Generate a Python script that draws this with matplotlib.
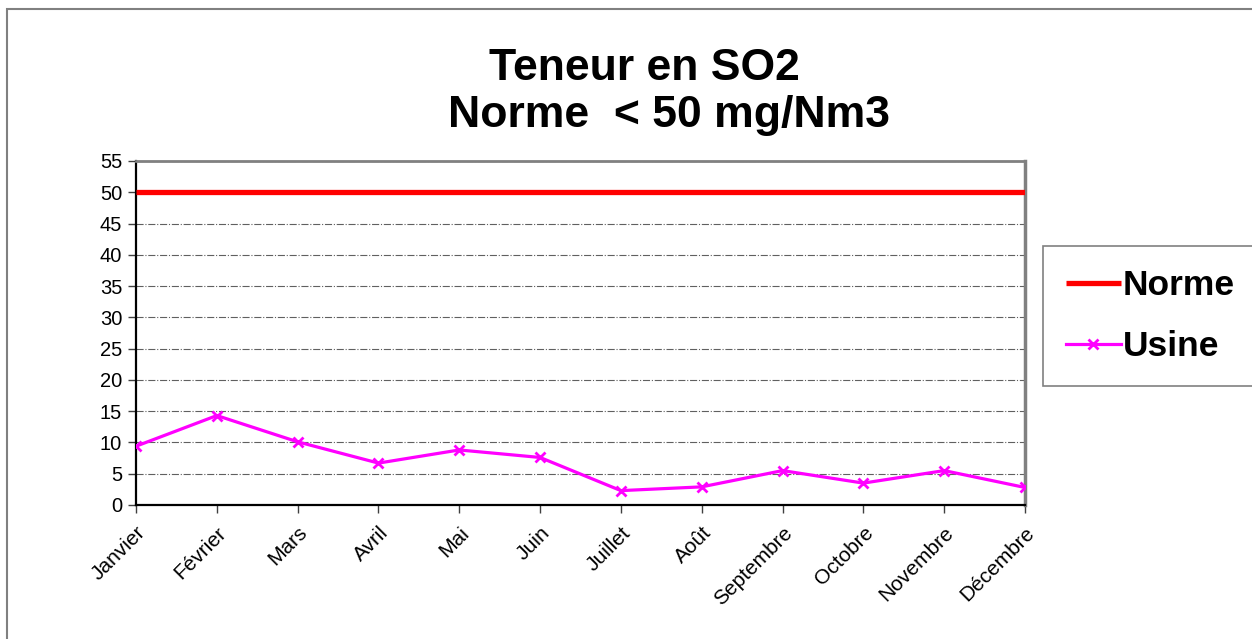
import matplotlib
matplotlib.use("Agg")
import matplotlib.pyplot as plt
from matplotlib.patches import Rectangle

months = ["Janvier", "Février", "Mars", "Avril", "Mai", "Juin", "Juillet",
          "Août", "Septembre", "Octobre", "Novembre", "Décembre"]
norme = [50] * 12
usine = [9.4, 14.3, 10.1, 6.7, 8.8, 7.6, 2.3, 2.9, 5.5, 3.5, 5.5, 2.8]
yticks = list(range(0, 60, 5))

plt.rcParams['font.family'] = ['Liberation Sans', 'DejaVu Sans']

W, H = 1252, 639
fig = plt.figure(figsize=(W / 100, H / 100), dpi=100)
fig.patch.set_facecolor('white')

# outer chart frame
fig.add_artist(Rectangle((7 / W, -0.05), 1.1, 1 - 9 / H + 0.05, transform=fig.transFigure,
                         fill=False, edgecolor='#808080', linewidth=1.5))

ax = fig.add_axes([136 / W, 1 - 505 / H, (1025 - 136) / W, (505 - 161) / H])
x = list(range(len(months)))
ln1, = ax.plot(x, norme, color='#ff0000', linewidth=3.8, solid_capstyle='butt', label='Norme', zorder=3)
ln2, = ax.plot(x, usine, color='#ff00ff', linewidth=2.3, marker='x', markersize=7,
               markeredgewidth=2.0, label='Usine', zorder=4)

ax.set_xlim(0, 11)
ax.set_ylim(0, 55)
ax.set_yticks(yticks)
ax.set_xticks(x)
ax.set_xticklabels(months, rotation=45, ha='right', va='top', rotation_mode='anchor', fontsize=15)
ax.tick_params(axis='y', labelsize=14.5, direction='out', length=6, width=1, color='#404040', pad=4)
ax.tick_params(axis='x', direction='out', length=6, width=1, color='#404040', pad=7)
ax.yaxis.grid(True, linestyle='-.', color='#606060', linewidth=0.8)
ax.set_axisbelow(True)

for s in ['left', 'bottom']:
    ax.spines[s].set_color('black')
    ax.spines[s].set_linewidth(1.6)
ax.spines['top'].set_color('#808080')
ax.spines['top'].set_linewidth(2)
ax.spines['right'].set_color('#808080')
ax.spines['right'].set_linewidth(2.5)

fig.text(644 / W, 1 - 80 / H, "Teneur en SO2", ha='center', va='baseline',
         fontsize=32, fontweight='bold')
fig.text(669 / W, 1 - 127 / H, "Norme  < 50 mg/Nm3", ha='center', va='baseline',
         fontsize=32, fontweight='bold')

leg = fig.legend(handles=[ln1, ln2], loc='upper left', bbox_to_anchor=(1043 / W, 1 - 246 / H),
                 prop={'size': 25.5, 'weight': 'bold'}, frameon=True, fancybox=False,
                 edgecolor='#606060', handlelength=1.55, handletextpad=0.05,
                 borderpad=0.65, labelspacing=0.8, borderaxespad=0)
leg.get_frame().set_linewidth(1.2)

fig.savefig("out.png", dpi=100)
